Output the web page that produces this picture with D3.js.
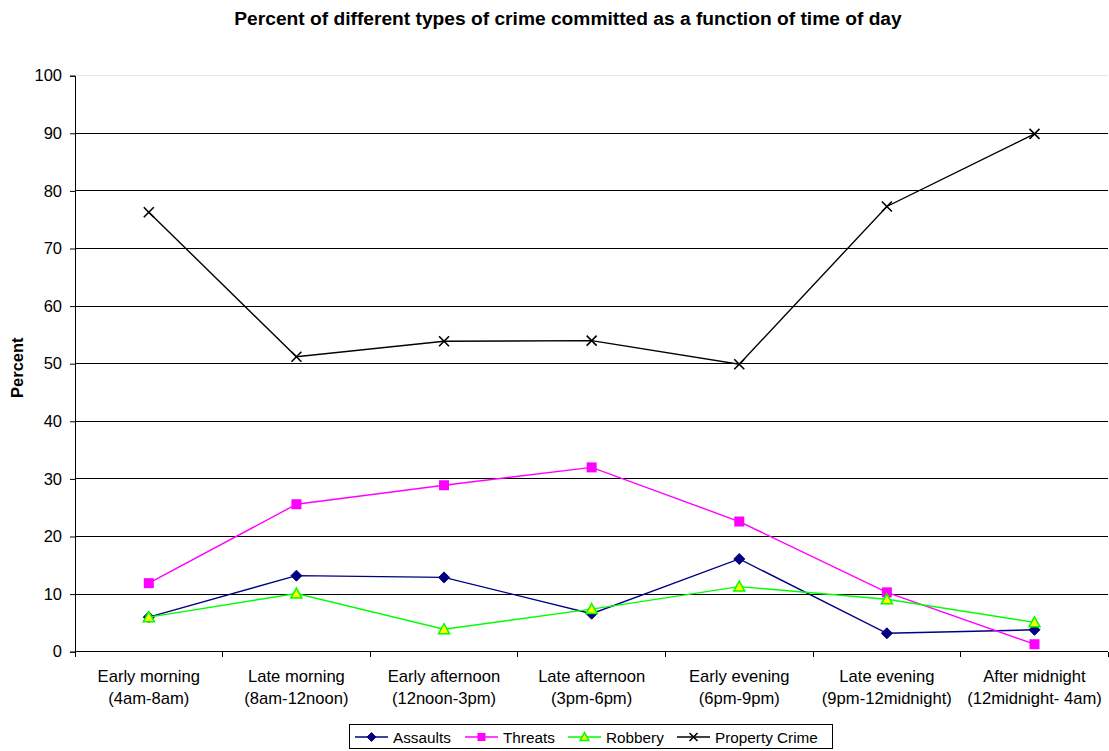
<!DOCTYPE html>
<html><head><meta charset="utf-8">
<script src="https://cdn.jsdelivr.net/npm/d3@7"></script>
<style>body{margin:0;background:#fff}svg{display:block;font-family:"Liberation Sans",Arial,sans-serif}</style>
</head><body><svg id="c" width="1109" height="751"></svg>
<script>
const categories = [
  ["Early morning","(4am-8am)"],
  ["Late morning","(8am-12noon)"],
  ["Early afternoon","(12noon-3pm)"],
  ["Late afternoon","(3pm-6pm)"],
  ["Early evening","(6pm-9pm)"],
  ["Late evening","(9pm-12midnight)"],
  ["After midnight","(12midnight- 4am)"]
];
const assaults = [6.0, 13.2, 12.9, 6.6, 16.1, 3.2, 3.8];
const threats = [11.9, 25.6, 28.9, 32.0, 22.6, 10.3, 1.3];
const robbery = [6.0, 10.1, 3.9, 7.4, 11.3, 9.1, 5.1];
const propertyCrime = [76.3, 51.2, 53.9, 54.0, 49.9, 77.3, 89.9];
const yTicks = [0,10,20,30,40,50,60,70,80,90,100];
const seriesNames = ["Assaults","Threats","Robbery","Property Crime"];

const series = [
  {name: seriesNames[0], values: assaults, color: "#000080", marker: "diamond", fill: "#000080"},
  {name: seriesNames[1], values: threats, color: "#FF00FF", marker: "square", fill: "#FF00FF"},
  {name: seriesNames[2], values: robbery, color: "#00FF00", marker: "triangle", fill: "#FFFF00"},
  {name: seriesNames[3], values: propertyCrime, color: "#000000", marker: "x", fill: "none"}
];

const svg = d3.select("#c");
const L = 75, R = 1108.3, T = 75.7, B = 651.7;
const x = d3.scaleBand().domain(d3.range(categories.length)).range([L, R]);
const y = d3.scaleLinear().domain([0, 100]).range([B, T]);

// gridlines
svg.append("g").selectAll("line").data(yTicks.filter(d => d > 0)).join("line")
  .attr("x1", L).attr("x2", R).attr("y1", d => y(d)).attr("y2", d => y(d))
  .attr("stroke", d => d === 100 ? "#e8e8e8" : "#000").attr("stroke-width", 1)
  .attr("shape-rendering", "crispEdges");

// y axis
const ya = svg.append("g").attr("transform", `translate(${L},0)`)
  .call(d3.axisLeft(y).tickValues(yTicks).tickSize(5).tickPadding(8));
ya.select(".domain").attr("stroke", "#000");
ya.selectAll(".tick line").attr("stroke", "#000");
ya.selectAll("text").attr("font-size", 16.5).attr("fill", "#000").attr("font-family", "Liberation Sans, Arial, sans-serif");

// x axis
svg.append("line").attr("x1", L).attr("x2", R).attr("y1", B).attr("y2", B).attr("stroke", "#000").attr("shape-rendering","crispEdges");
svg.append("g").selectAll("line").data(d3.range(categories.length + 1)).join("line")
  .attr("x1", i => L + i * x.bandwidth()).attr("x2", i => L + i * x.bandwidth())
  .attr("y1", B).attr("y2", B + 5).attr("stroke", "#000").attr("shape-rendering","crispEdges");
const xl = svg.append("g").selectAll("text").data(categories).join("text")
  .attr("x", (d, i) => x(i) + x.bandwidth() / 2).attr("y", 682)
  .attr("text-anchor", "middle").attr("font-size", 16.6).attr("fill", "#000");
xl.append("tspan").attr("x", (d, i) => x(i) + x.bandwidth() / 2).text(d => d[0]);
xl.append("tspan").attr("x", (d, i) => x(i) + x.bandwidth() / 2).attr("dy", 21.5).text(d => d[1]);

// title
svg.append("text").attr("x", 568).attr("y", 25).attr("text-anchor", "middle")
  .attr("font-size", 19.2).attr("font-weight", "bold").attr("fill", "#000")
  .text("Percent of different types of crime committed as a function of time of day");
svg.append("text").attr("transform", `translate(23,${(T + B) / 2 + 4}) rotate(-90)`)
  .attr("text-anchor", "middle").attr("font-size", 16.5).attr("font-weight", "bold").text("Percent");

function drawMarker(g, s, cx, cy, k) {
  k = k || 1;
  if (s.marker === "diamond") {
    const r = 5.5 * k;
    g.append("path").attr("d", `M${cx},${cy-r}L${cx+r},${cy}L${cx},${cy+r}L${cx-r},${cy}Z`)
      .attr("fill", s.fill).attr("stroke", s.color);
  } else if (s.marker === "square") {
    const r = 5 * k;
    g.append("rect").attr("x", cx - r).attr("y", cy - r).attr("width", 2 * r).attr("height", 2 * r).attr("fill", s.fill);
  } else if (s.marker === "triangle") {
    const r = 5.5 * k;
    g.append("path").attr("d", `M${cx},${cy-r}L${cx+r},${cy+r*0.82}L${cx-r},${cy+r*0.82}Z`)
      .attr("fill", s.fill).attr("stroke", s.color).attr("stroke-width", 1.5);
  } else {
    const r = 5 * k;
    g.append("path").attr("d", `M${cx-r},${cy-r}L${cx+r},${cy+r}M${cx+r},${cy-r}L${cx-r},${cy+r}`)
      .attr("stroke", "#000").attr("stroke-width", 1.6).attr("fill", "none");
  }
}

const line = d3.line().x((d, i) => x(i) + x.bandwidth() / 2).y(d => y(d));
series.forEach(s => {
  const g = svg.append("g");
  g.append("path").attr("d", line(s.values)).attr("fill", "none").attr("stroke", s.color).attr("stroke-width", 1.4);
  s.values.forEach((v, i) => drawMarker(g, s, x(i) + x.bandwidth() / 2, y(v)));
});

// legend
const lg = svg.append("g");
lg.append("rect").attr("x", 349.5).attr("y", 724.5).attr("width", 483).attr("height", 24)
  .attr("fill", "#fff").attr("stroke", "#000");
const legX = [355, 465, 568, 677];
series.forEach((s, i) => {
  const lx = legX[i], ly = 737;
  lg.append("line").attr("x1", lx).attr("x2", lx + 33).attr("y1", ly).attr("y2", ly).attr("stroke", s.color).attr("stroke-width", 1.4);
  drawMarker(lg, s, lx + 16.5, ly, 0.8);
  lg.append("text").attr("x", lx + 38).attr("y", ly + 5.5).attr("font-size", 15.3).attr("fill", "#000").text(s.name);
});
</script></body></html>
